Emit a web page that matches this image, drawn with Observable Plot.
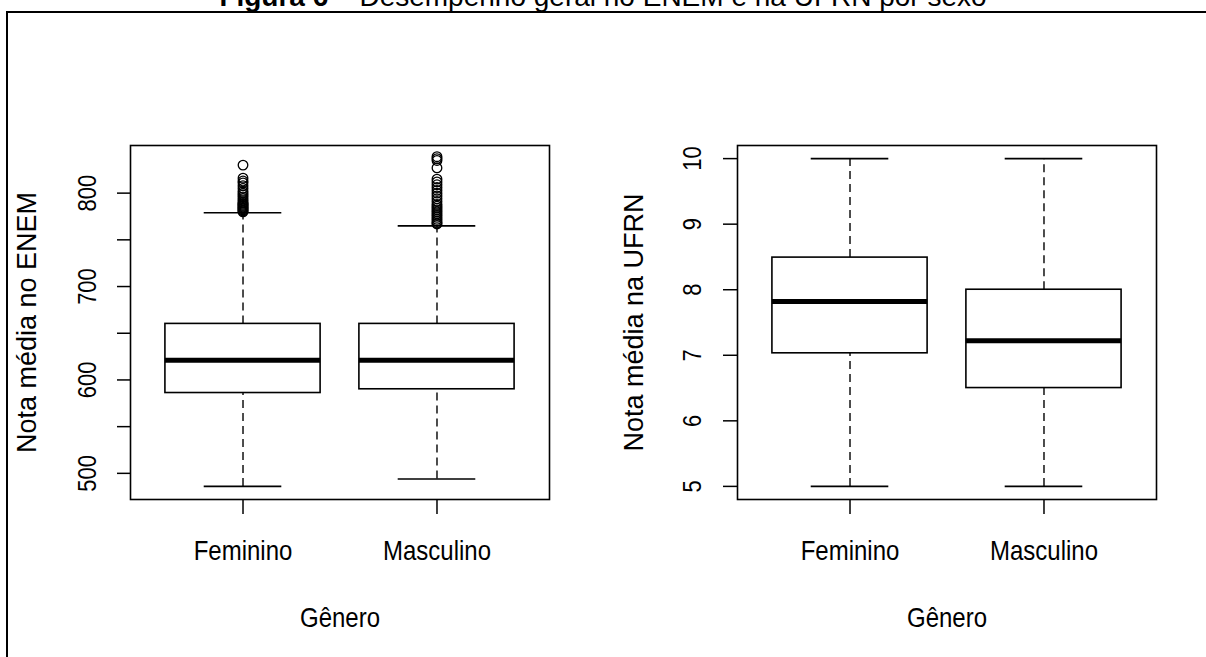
<!DOCTYPE html>
<html><head><meta charset="utf-8">
<script src="https://cdn.jsdelivr.net/npm/d3@7"></script>
<script src="https://cdn.jsdelivr.net/npm/@observablehq/plot@0.6"></script>
<style>
html,body{margin:0;padding:0;background:#fff;overflow:hidden;width:1206px;height:657px;position:relative;}
#frame{position:absolute;left:6px;top:11px;width:1300px;height:800px;border-left:2px solid #000;border-top:2px solid #000;z-index:5;}
#title{position:absolute;left:0;width:1206px;text-align:center;top:-17px;font-family:"Liberation Sans",Arial,sans-serif;font-size:28px;line-height:28px;white-space:nowrap;color:#000;}
.panel{position:absolute;top:0;}
</style></head><body>
<div id="title"><b>Figura 6</b> – Desempenho geral no ENEM e na UFRN por sexo</div>
<div id="frame"></div>
<div id="p1" class="panel" style="left:0"></div>
<div id="p2" class="panel" style="left:603px"></div>
<script>
const categories = ["Feminino", "Masculino"];
const xLabel = "Gênero";

// ENEM panel
const enemLabel = "Nota média no ENEM";
const enemLower = [486, 494];
const enemQ1 = [586, 590];
const enemMedian = [621, 621];
const enemQ3 = [660, 660];
const enemUpper = [779, 765];
const enemOutFem = [830, 816, 813, 811, 808, 805, 802, 800, 798, 796, 794, 792, 790, 789, 788, 787, 786, 785, 784, 783, 782, 781, 780];
const enemOutMasc = [839, 837, 835, 827, 815, 812, 809, 806, 803, 800, 797, 794, 791, 788, 786, 784, 782, 780, 778, 776, 774, 772, 770, 768, 767];
const enemTicks = [500, 550, 600, 650, 700, 750, 800];
const enemTickLabels = [500, 600, 700, 800];
const enemDomain = [472, 851];

// UFRN panel
const ufrnLabel = "Nota média na UFRN";
const ufrnLower = [5, 5];
const ufrnQ1 = [7.03, 6.5];
const ufrnMedian = [7.82, 7.22];
const ufrnQ3 = [8.49, 8.0];
const ufrnUpper = [10, 10];
const ufrnTicks = [5, 6, 7, 8, 9, 10];
const ufrnTickLabels = [5, 6, 7, 8, 9, 10];
const ufrnDomain = [4.8, 10.2];

const FONT = "Liberation Sans, Arial, Helvetica, sans-serif";

function panel(o) {
  const rows = categories.map((c, k) => ({
    i: k + 1, lower: o.lower[k], q1: o.q1[k], med: o.med[k], q3: o.q3[k], upper: o.upper[k]
  }));
  const outRows = [];
  o.outliers.forEach((arr, k) => arr.forEach(v => outRows.push({i: k + 1, v})));
  const svg = Plot.plot({
    width: 603, height: 657,
    marginLeft: o.ml, marginRight: o.mr, marginTop: 145, marginBottom: 158,
    style: {fontFamily: FONT, background: "transparent", color: "black"},
    x: {type: "linear", domain: [0.42, 2.58], axis: null, label: null},
    y: {type: "linear", domain: o.domain, axis: null, label: null},
    marks: [
      Plot.ruleX(rows, {x: "i", y1: "q3", y2: "upper", stroke: "#222", strokeWidth: 1.6, strokeDasharray: "8,5"}),
      Plot.ruleX(rows, {x: "i", y1: "lower", y2: "q1", stroke: "#222", strokeWidth: 1.6, strokeDasharray: "8,5"}),
      Plot.ruleY(rows, {y: "upper", x1: d => d.i - 0.2, x2: d => d.i + 0.2, stroke: "black", strokeWidth: 1.6}),
      Plot.ruleY(rows, {y: "lower", x1: d => d.i - 0.2, x2: d => d.i + 0.2, stroke: "black", strokeWidth: 1.6}),
      Plot.rect(rows, {x1: d => d.i - 0.4, x2: d => d.i + 0.4, y1: "q1", y2: "q3", fill: "white", stroke: "black", strokeWidth: 1.6}),
      Plot.ruleY(rows, {y: "med", x1: d => d.i - 0.4, x2: d => d.i + 0.4, stroke: "black", strokeWidth: 5}),
      Plot.dot(outRows, {x: "i", y: "v", r: 4.8, stroke: "black", strokeWidth: 1.3, fill: "none"}),
      Plot.frame({stroke: "black", strokeWidth: 1.6}),
      Plot.axisY({ticks: o.ticks, tickSize: o.tickSizeY, tickFormat: () => "", label: null, strokeWidth: 1.5}),
      Plot.text(o.tickLabels, {y: d => d, text: d => String(d), frameAnchor: "left", textAnchor: "middle", lineAnchor: "middle", dx: o.tickDx, rotate: -90, fontSize: 22, fill: "black", ariaDescription: "yticks"}),
      Plot.axisX({ticks: [1, 2], tickSize: 15, tickFormat: () => "", label: null, strokeWidth: 1.5}),
      Plot.text(rows, {x: "i", text: d => categories[d.i - 1], frameAnchor: "bottom", textAnchor: "middle", lineAnchor: "middle", dy: 52, fontSize: 24, fill: "black", ariaDescription: "hlabels"}),
      Plot.text([xLabel], {text: d => d, frameAnchor: "bottom", textAnchor: "middle", lineAnchor: "middle", dy: 119, fontSize: 24, fill: "black", ariaDescription: "hlabels"}),
      Plot.text([o.ylabel], {text: d => d, frameAnchor: "left", textAnchor: "middle", lineAnchor: "middle", dx: o.titleDx, rotate: -90, fontSize: 27, fill: "black"})
    ]
  });
  svg.querySelectorAll("g[aria-description=hlabels] text").forEach(t => {
    t.setAttribute("transform", (t.getAttribute("transform") || "") + " scale(1,1.12)");
  });
  svg.querySelectorAll("g[aria-description=yticks] text").forEach(t => {
    t.setAttribute("transform", (t.getAttribute("transform") || "") + " scale(1,1.2)");
  });
  return svg;
}

document.getElementById("p1").appendChild(panel({
  ml: 130, mr: 54, domain: enemDomain, lower: enemLower, q1: enemQ1, med: enemMedian, q3: enemQ3, upper: enemUpper,
  outliers: [enemOutFem, enemOutMasc], ticks: enemTicks, tickLabels: enemTickLabels, tickSizeY: 13,
  tickDx: -43, titleDx: -103, ylabel: enemLabel
}));
document.getElementById("p2").appendChild(panel({
  ml: 134, mr: 50, domain: ufrnDomain, lower: ufrnLower, q1: ufrnQ1, med: ufrnMedian, q3: ufrnQ3, upper: ufrnUpper,
  outliers: [[], []], ticks: ufrnTicks, tickLabels: ufrnTickLabels, tickSizeY: 14,
  tickDx: -45, titleDx: -103, ylabel: ufrnLabel
}));
</script>
</body></html>
